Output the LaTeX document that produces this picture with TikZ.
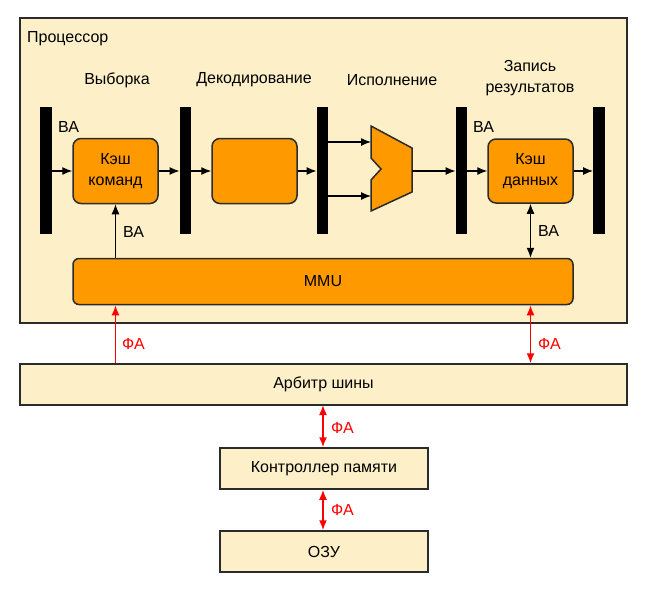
\documentclass[tikz,border=0pt]{standalone}
\usepackage{fontspec}
\setmainfont{Liberation Sans}
\usetikzlibrary{arrows.meta}
\definecolor{cream}{HTML}{FDF0C8}
\definecolor{orng}{HTML}{FF9900}
\definecolor{edge}{HTML}{2B2B2B}
\definecolor{redA}{HTML}{FF0000}
\begin{document}
\begin{tikzpicture}[x=1pt,y=-1pt,
  every node/.style={font=\fontsize{16}{19}\selectfont, inner sep=0pt},
  twol/.style={align=center, font=\fontsize{16}{21}\selectfont},
  panel/.style={draw=edge, line width=1.5pt, fill=cream},
  unit/.style={draw=edge, line width=1.5pt, fill=orng, rounded corners=8pt},
  bar/.style={fill=black, draw=none},
  flow/.style={-{Latex[length=10pt,width=8pt]}, line width=1.2pt, black},
  bflow/.style={{Latex[length=10pt,width=8pt]}-{Latex[length=10pt,width=8pt]}, line width=1.2pt, black},
  rflow/.style={-{Latex[length=10pt,width=8pt]}, line width=1.6pt, redA},
  rbflow/.style={{Latex[length=10pt,width=8pt]}-{Latex[length=10pt,width=8pt]}, line width=1.6pt, redA},
  rlbl/.style={text=redA, anchor=west}
]
\useasboundingbox (0,0) rectangle (650,595);
% processor panel
\draw[panel] (20,18) rectangle (627,323);
\node[anchor=west] (proc) at (27,39) {Процессор};
% stage labels
\node (s1) at (117,80) {Выборка};
\node (s2) at (254,80) {Декодирование};
\node (s3) at (392,80) {Исполнение};
\node[twol] (s4) at (530,78) {Запись\\результатов};
% bars
\node[bar, minimum width=11.5pt, minimum height=127pt] (b1) at (46,170.5) {};
\node[bar, minimum width=11.5pt, minimum height=127pt] (b2) at (185.5,170.5) {};
\node[bar, minimum width=11.5pt, minimum height=127pt] (b3) at (322.5,170.5) {};
\node[bar, minimum width=11.5pt, minimum height=127pt] (b4) at (461.5,170.5) {};
\node[bar, minimum width=11.5pt, minimum height=127pt] (b5) at (599,170.5) {};
% units
\node[unit, twol, minimum width=85pt, minimum height=65pt] (ic) at (115.5,171) {Кэш\\команд};
\node[unit, minimum width=85pt, minimum height=65pt] (dec) at (254.5,171) {};
\node[unit, twol, minimum width=85pt, minimum height=64pt] (dc) at (530.5,171) {Кэш\\данных};
\node[unit, minimum width=500pt, minimum height=46pt, rounded corners=6pt] (mmu) at (323,281.5) {MMU};
% ALU
\draw[draw=edge, line width=1.5pt, fill=orng] (371,126) -- (412,148) -- (412,192) -- (371,211) -- (371,180) -- (381,169) -- (371,158) -- cycle;
\coordinate (aluin1) at (371,142);
\coordinate (aluin2) at (371,196);
\coordinate (aluout) at (412,171);
% pipeline connectors
\draw[flow] (b1.east |- ic.west) -- (ic.west);
\draw[flow] (ic.east) -- (b2.west |- ic.east);
\draw[flow] (b2.east |- dec.west) -- (dec.west);
\draw[flow] (dec.east) -- (b3.west |- dec.east);
\draw[flow] (b3.east |- aluin1) -- (aluin1);
\draw[flow] (b3.east |- aluin2) -- (aluin2);
\draw[flow] (aluout) -- (b4.west |- aluout);
\draw[flow] (b4.east |- dc.west) -- (dc.west);
\draw[flow] (dc.east) -- (b5.west |- dc.east);
\node[anchor=west] (va1) at (58,127) {ВА};
\node[anchor=west] (va4) at (473,127) {ВА};
% MMU links
\draw[flow] (ic.south |- mmu.north) -- (ic.south);
\node[anchor=west] (va2) at (123,232) {ВА};
\draw[bflow] (dc.south) -- (dc.south |- mmu.north);
\node[anchor=west] (va3) at (538,231) {ВА};
% lower blocks
\node[panel, minimum width=607pt, minimum height=41pt] (arb) at (323.5,384.5) {Арбитр шины};
\node[panel, minimum width=208pt, minimum height=41pt] (mc) at (324,468.5) {Контроллер памяти};
\node[panel, minimum width=208pt, minimum height=41pt] (ram) at (324,551.5) {ОЗУ};
% red connectors
\draw[rflow] (ic.south |- arb.north) -- (ic.south |- mmu.south);
\node[rlbl] (fa1) at (122,344) {ФА};
\draw[rbflow] (dc.south |- mmu.south) -- (dc.south |- arb.north);
\node[rlbl] (fa2) at (538,344) {ФА};
\draw[rbflow] (323,405) -- (mc.north -| 323,0);
\node[rlbl] (fa3) at (331,428) {ФА};
\draw[rbflow] (mc.south -| 323,0) -- (ram.north -| 323,0);
\node[rlbl] (fa4) at (331,510) {ФА};
\end{tikzpicture}
\end{document}
